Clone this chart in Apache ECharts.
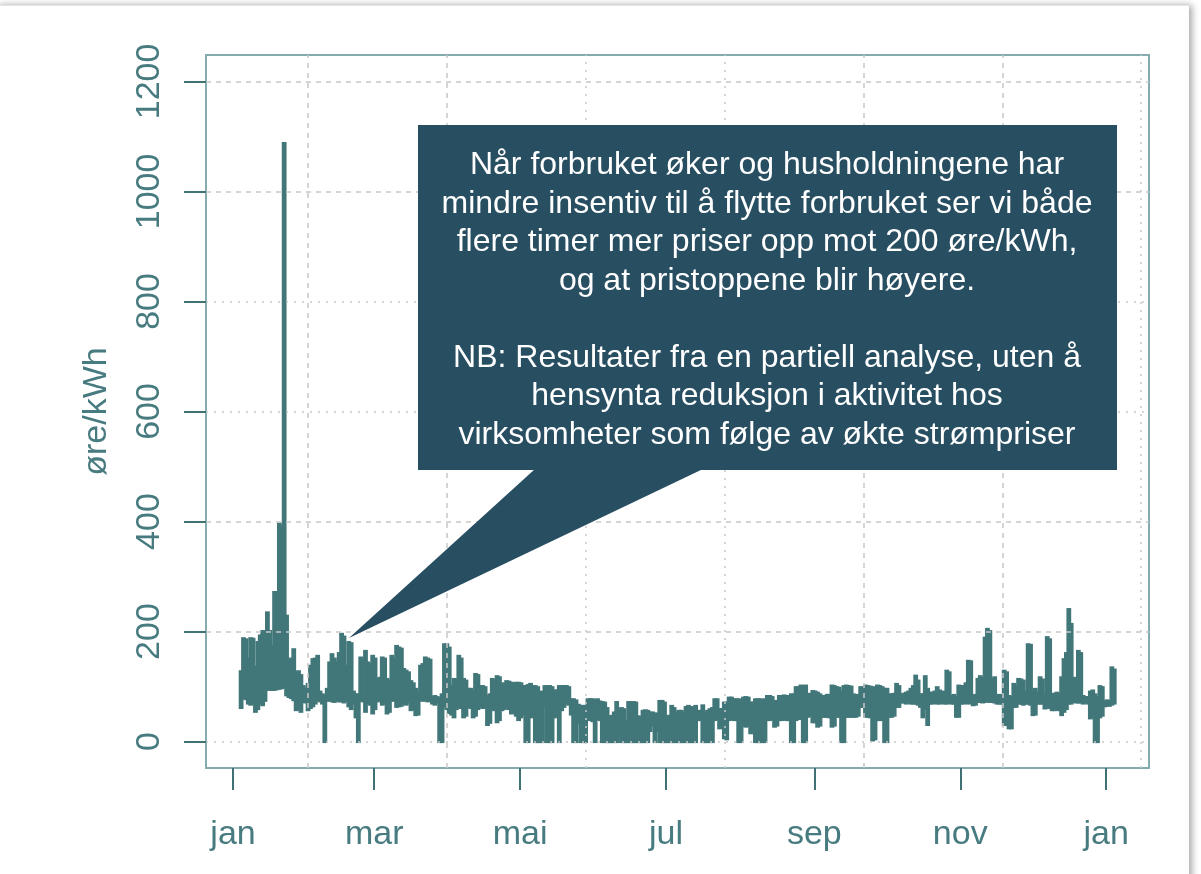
<!DOCTYPE html>
<html>
<head>
<meta charset="utf-8">
<title>Strømpris</title>
<script src="https://cdn.jsdelivr.net/npm/echarts@6/dist/echarts.min.js"></script>
<style>
html, body { margin: 0; padding: 0; background: #fff; }
#frame { position: absolute; left: -4px; top: 5px; width: 1193px; height: 900px; background: #fff;
         border-top: 1px solid #e4e4e4; box-shadow: 3px 0 7px rgba(0,0,0,0.35); }
#main { position: absolute; left: 0; top: 0; width: 1201px; height: 874px; }
</style>
</head>
<body>
<div id="frame"></div>
<div id="main"></div>
<script type="text/javascript">
var firstDay = 3; // day of year of the first value
var dailyHigh = [
    127, 187, 185, 150, 187, 186, 135, 180, 192, 200,
    180, 234, 200, 173, 271, 268, 395, 390, 1087, 228,
    143, 150, 167, 125, 127, 120, 100, 95, 104, 137,
    149, 150, 155, 90, 85, 82, 95, 143, 158, 150,
    143, 160, 195, 190, 137, 180, 178, 90, 85, 85,
    152, 150, 164, 143, 140, 155, 150, 113, 115, 152,
    150, 113, 110, 155, 150, 173, 170, 168, 131, 128,
    125, 109, 105, 95, 89, 137, 140, 152, 150, 148,
    80, 82, 80, 78, 85, 176, 176, 170, 100, 113,
    112, 155, 150, 113, 110, 95, 95, 90, 122, 120,
    100, 100, 98, 82, 85, 113, 110, 118, 116, 104,
    105, 109, 108, 106, 105, 106, 106, 105, 100, 100,
    102, 104, 100, 100, 98, 89, 90, 100, 100, 100,
    98, 92, 92, 100, 100, 100, 100, 98, 76, 76,
    74, 66, 64, 64, 64, 76, 76, 76, 74, 76,
    72, 71, 70, 60, 45, 46, 52, 71, 55, 60,
    58, 36, 71, 36, 71, 70, 45, 44, 55, 56,
    55, 52, 52, 50, 50, 73, 73, 70, 45, 46,
    64, 60, 52, 55, 55, 52, 62, 64, 62, 60,
    64, 52, 55, 65, 52, 55, 58, 60, 76, 76,
    58, 58, 70, 70, 79, 79, 76, 76, 76, 74,
    79, 80, 79, 70, 70, 76, 76, 76, 75, 76,
    82, 82, 80, 73, 73, 82, 82, 83, 82, 82,
    85, 85, 98, 98, 101, 100, 101, 85, 86, 91,
    90, 88, 85, 82, 82, 84, 84, 101, 100, 98,
    97, 90, 100, 101, 100, 99, 85, 82, 84, 98,
    98, 101, 100, 99, 98, 96, 101, 100, 98, 95,
    95, 85, 85, 86, 104, 100, 85, 86, 88, 90,
    95, 100, 119, 110, 85, 85, 118, 95, 88, 88,
    90, 98, 92, 88, 90, 128, 125, 82, 84, 80,
    101, 100, 100, 105, 146, 145, 82, 84, 113, 118,
    115, 188, 204, 200, 113, 116, 82, 84, 83, 128,
    125, 82, 80, 104, 100, 113, 112, 110, 90, 176,
    175, 90, 95, 88, 116, 112, 85, 189, 185, 85,
    86, 88, 85, 116, 149, 160, 240, 213, 115, 113,
    164, 160, 82, 80, 80, 90, 92, 85, 80, 100,
    98, 72, 74, 73, 134, 130
];
var dailyLow = [
    62, 80, 78, 70, 68, 72, 55, 60, 70, 67,
    75, 95, 95, 95, 95, 96, 97, 98, 100, 85,
    82, 80, 76, 58, 60, 55, 73, 72, 58, 62,
    65, 70, 76, 74, 70, 0, 75, 76, 74, 73,
    76, 74, 74, 72, 75, 65, 60, 70, 45, 0,
    75, 74, 55, 70, 68, 52, 60, 74, 76, 68,
    70, 52, 55, 76, 75, 64, 65, 66, 70, 68,
    72, 58, 60, 49, 50, 76, 75, 76, 74, 76,
    70, 68, 72, 0, 0, 65, 60, 53, 50, 45,
    60, 64, 62, 45, 48, 64, 62, 45, 48, 60,
    64, 62, 64, 31, 35, 60, 58, 36, 40, 58,
    60, 62, 60, 52, 54, 48, 40, 45, 50, 0,
    0, 45, 48, 0, 0, 0, 0, 64, 0, 0,
    0, 45, 48, 0, 58, 64, 70, 68, 50, 0,
    0, 35, 0, 0, 0, 42, 40, 38, 0, 42,
    40, 0, 0, 0, 0, 0, 0, 0, 10, 0,
    0, 0, 0, 0, 0, 0, 0, 0, 0, 0,
    0, 20, 30, 0, 20, 0, 0, 0, 0, 0,
    0, 0, 0, 0, 0, 0, 0, 0, 0, 0,
    0, 40, 40, 0, 0, 0, 0, 0, 40, 42,
    25, 28, 7, 5, 40, 42, 40, 40, 0, 0,
    30, 28, 30, 16, 20, 0, 0, 0, 0, 0,
    40, 40, 42, 28, 30, 40, 40, 42, 40, 40,
    0, 0, 40, 42, 42, 0, 0, 46, 48, 36,
    36, 28, 30, 46, 46, 46, 45, 28, 30, 46,
    46, 0, 0, 46, 46, 46, 46, 46, 48, 64,
    64, 46, 46, 45, 3, 5, 40, 40, 40, 0,
    0, 46, 46, 48, 64, 64, 72, 72, 70, 72,
    70, 70, 70, 68, 64, 45, 60, 31, 70, 70,
    72, 70, 70, 72, 70, 70, 72, 70, 70, 46,
    46, 70, 70, 72, 70, 72, 67, 68, 73, 73,
    72, 73, 74, 73, 73, 72, 70, 70, 70, 31,
    31, 25, 25, 64, 64, 70, 70, 68, 70, 70,
    68, 49, 50, 70, 70, 70, 61, 62, 63, 58,
    58, 60, 58, 49, 55, 60, 70, 70, 73, 72,
    72, 72, 70, 72, 70, 43, 45, 0, 0, 45,
    48, 65, 66, 66, 68, 70
];

var monthDays = [0, 59, 120, 181, 243, 304, 365];
var monthLabels = ['jan', 'mar', 'mai', 'jul', 'sep', 'nov', 'jan'];
var yTicks = [0, 200, 400, 600, 800, 1000, 1200];
var hGridStyle = ['dotted', 'dashed', 'dashed', 'dotted', 'dotted', 'dashed', 'dashed'];
var vGridDays = [31.4, 89.5, 147.6, 205.7, 263.8, 321.9, 379.6];
var vGridStyle = ['dashed', 'dashed', 'dotted', 'dotted', 'dashed', 'dashed', 'dotted'];

var noteText = [
    'Når forbruket øker og husholdningene har',
    'mindre insentiv til å flytte forbruket ser vi både',
    'flere timer mer priser opp mot 200 øre/kWh,',
    'og at pristoppene blir høyere.',
    '',
    'NB: Resultater fra en partiell analyse, uten å',
    'hensynta reduksjon i aktivitet hos',
    'virksomheter som følge av økte strømpriser'
];

var teal = '#42777a';
var labelColor = '#477b7f';
var font = 'Liberation Sans, Arial, sans-serif';

var band = [];
for (var i = 0; i < dailyHigh.length; i++) {
    band.push([firstDay + i, dailyLow[i], dailyHigh[i]]);
}

function dash(t) { return t === 'dashed' ? [5, 5] : [2, 6]; }
var gridLines = [];
yTicks.forEach(function (v, i) {
    gridLines.push({ yAxis: v, lineStyle: { type: dash(hGridStyle[i]) } });
});
vGridDays.forEach(function (v, i) {
    gridLines.push({ xAxis: v, lineStyle: { type: dash(vGridStyle[i]) } });
});

// one day = a column from its low to its high, stroked like a thick line
function renderDay(params, api) {
    var d = api.value(0);
    var top = api.coord([d, api.value(2)]);
    var bottom = api.coord([d + 0.75, api.value(1)]);
    return {
        type: 'rect',
        shape: { x: top[0], y: top[1], width: bottom[0] - top[0], height: bottom[1] - top[1] },
        style: { fill: teal, stroke: teal, lineWidth: 3 }
    };
}

var myChart = echarts.init(document.getElementById('main'));
var option = {
    animation: false,
    grid: {
        left: 206, top: 55, width: 943, height: 713,
        show: true, borderColor: '#84abad', borderWidth: 2, backgroundColor: 'transparent'
    },
    xAxis: {
        type: 'value', min: -11.3, max: 382.9,
        axisLine: { show: false, onZero: false },
        splitLine: { show: false },
        axisTick: { show: true, customValues: monthDays, length: 22, lineStyle: { color: '#3f7175', width: 2 } },
        axisLabel: {
            customValues: monthDays, margin: 50, color: labelColor, fontSize: 34, fontFamily: font,
            formatter: function (v) { return monthLabels[monthDays.indexOf(v)]; }
        }
    },
    yAxis: {
        type: 'value', min: -48, max: 1248,
        name: 'øre/kWh', nameLocation: 'middle', nameGap: 92, nameRotate: 90,
        nameTextStyle: { color: labelColor, fontSize: 34, fontFamily: font },
        axisLine: { show: false, onZero: false },
        splitLine: { show: false },
        axisTick: { show: true, customValues: yTicks, length: 22, lineStyle: { color: '#3f7175', width: 2 } },
        axisLabel: {
            customValues: yTicks, rotate: 90, margin: 39, color: labelColor, fontSize: 34, fontFamily: font,
            formatter: function (v) { return String(v); }
        }
    },
    series: [{
        type: 'line', data: [], z: 1, silent: true,
        markLine: {
            silent: true, symbol: ['none', 'none'], label: { show: false }, animation: false,
            lineStyle: { color: '#c8c8c8', width: 1.5 },
            data: gridLines
        }
    }, {
        type: 'custom', data: band, z: 3, silent: true,
        encode: { x: 0, y: [1, 2] },
        renderItem: renderDay
    }],
    graphic: [{
        type: 'polygon', z: 10,
        shape: { points: [[535, 469], [703, 469], [349, 638]] },
        style: { fill: '#284e62' }
    }, {
        type: 'rect', z: 10,
        shape: { x: 418, y: 125, width: 699, height: 345 },
        style: { fill: '#284e62' }
    }, {
        type: 'text', z: 11, x: 767, y: 146,
        style: {
            text: noteText.join('\n'), fill: '#ffffff', font: '32px ' + font,
            align: 'center', verticalAlign: 'top', lineHeight: 38.5
        }
    }]
};
myChart.setOption(option);
</script>
</body>
</html>
